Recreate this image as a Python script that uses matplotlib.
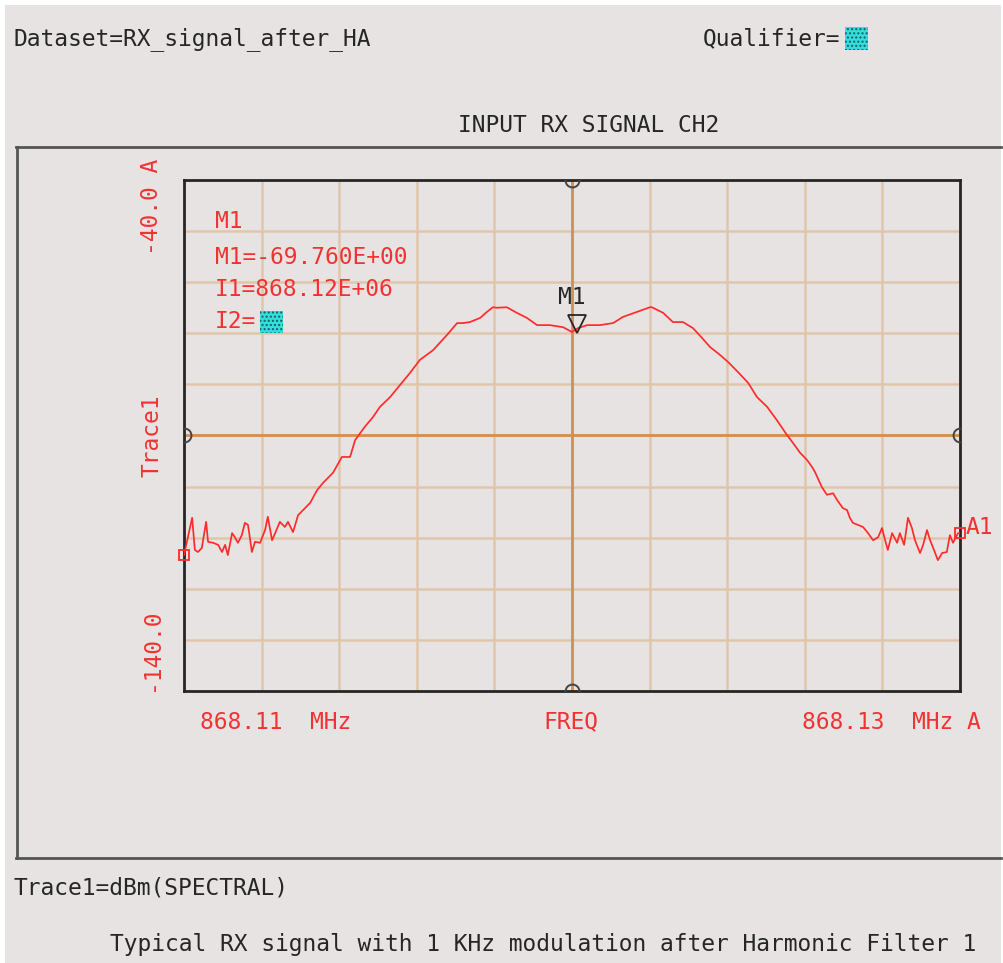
import matplotlib
matplotlib.use('Agg')
import matplotlib.pyplot as plt
import numpy as np
from matplotlib.patches import Rectangle
from matplotlib.lines import Line2D

# ---- data ----
offset_khz = [-10.00, -9.79, -9.72, -9.64, -9.54, -9.43, -9.38, -9.25, -9.12, -9.02,
              -8.94, -8.87, -8.76, -8.69, -8.61, -8.51, -8.43, -8.35, -8.25, -8.17,
              -8.04, -7.91, -7.84, -7.73, -7.65, -7.53, -7.40, -7.32, -7.19, -7.06,
              -6.88, -6.75, -6.57, -6.42, -6.16, -5.93, -5.72, -5.59, -5.34, -5.13,
              -4.95, -4.69, -4.43, -4.18, -3.92, -3.58, -3.22, -2.96, -2.81, -2.63,
              -2.37, -2.19, -2.04, -1.93, -1.68, -1.42, -1.16, -0.90, -0.57, -0.23,
              0.00, 0.15, 0.39, 0.72, 1.06, 1.31, 1.68, 2.01, 2.06, 2.35,
              2.60, 2.86, 3.12, 3.35, 3.56, 3.81, 4.02, 4.28, 4.54, 4.77,
              5.03, 5.28, 5.54, 5.70, 5.88, 6.06, 6.19, 6.26, 6.44, 6.57,
              6.73, 6.83, 6.98, 7.09, 7.16, 7.24, 7.37, 7.50, 7.63, 7.76,
              7.89, 7.99, 8.07, 8.14, 8.25, 8.38, 8.45, 8.56, 8.66, 8.76,
              8.84, 8.97, 9.05, 9.15, 9.23, 9.33, 9.43, 9.54, 9.66, 9.74,
              9.82, 9.95, 10.00]
level_dbm = [-113.4, -106.1, -112.4, -112.8, -112.0, -106.9, -110.8, -111.0, -111.4, -112.8,
             -111.4, -113.4, -109.1, -109.9, -111.0, -109.5, -107.1, -107.5, -112.8, -110.8,
             -111.0, -108.5, -105.9, -110.5, -109.1, -106.9, -107.9, -106.9, -108.9, -105.6,
             -104.2, -103.2, -100.7, -99.3, -97.3, -94.2, -94.2, -90.9, -88.3, -86.4,
             -84.4, -82.5, -80.1, -77.8, -75.2, -73.3, -70.3, -68.0, -68.0, -67.8,
             -67.0, -65.8, -64.9, -65.0, -64.9, -66.0, -67.0, -68.4, -68.4, -68.8,
             -69.76, -69.0, -68.4, -68.4, -68.0, -66.8, -65.8, -64.9, -64.9, -66.0,
             -67.8, -67.8, -69.0, -70.9, -72.7, -74.2, -75.6, -77.6, -79.7, -82.5,
             -84.4, -87.0, -89.9, -91.5, -93.4, -94.8, -96.2, -97.1, -100.1, -101.6,
             -101.3, -102.6, -104.2, -104.6, -106.1, -107.1, -107.5, -107.9, -109.1, -110.5,
             -109.9, -108.1, -110.5, -112.4, -109.1, -111.0, -109.1, -111.4, -106.1, -108.1,
             -110.5, -113.0, -111.4, -108.5, -110.5, -112.4, -114.4, -113.0, -112.8, -109.5,
             -111.0, -109.1, -109.1]

center_mhz = 868.12
span_khz = 20.0
y_top, y_bottom = -40.0, -140.0
marker_label = "M1"
marker_value_text = "M1=-69.760E+00"
marker_freq_text = "I1=868.12E+06"
x_tick_labels = ["868.11  MHz", "FREQ", "868.13  MHz A"]
y_tick_labels = ["-40.0 A", "Trace1", "-140.0"]

# ---- figure ----
W, H = 1004, 963
fig = plt.figure(figsize=(W / 100, H / 100), dpi=100)
fig.patch.set_facecolor('white')

def fx(x):
    return x / W

def fy(y):
    return 1 - y / H

BG = '#e8e3e3'
RED = '#f03232'
TRACE = '#ff2a2a'
DARK = '#262626'
FONT = 'DejaVu Sans Mono'
FS = 16.5

fig.patches.append(Rectangle((fx(5), 0), fx(1001) - fx(5), fy(5), transform=fig.transFigure,
                             facecolor=BG, edgecolor='none', zorder=-10))
# outer frame
for (x0, y0, x1, y1) in [(16, 147, 1001, 147), (17, 147, 17, 858), (16, 858, 1001, 858)]:
    fig.add_artist(Line2D([fx(x0), fx(x1)], [fy(y0), fy(y1)], transform=fig.transFigure,
                          color='#555555', lw=2, zorder=-5))

ax = fig.add_axes([fx(184), fy(691), (960 - 184) / W, (691 - 180) / H])
ax.set_zorder(1)
ax.set_facecolor(BG)
fmin = center_mhz - span_khz / 2000
fmax = center_mhz + span_khz / 2000
ax.set_xlim(fmin, fmax)
ax.set_ylim(y_bottom, y_top)
ax.set_xticks(np.linspace(fmin, fmax, 11))
ax.set_yticks(np.linspace(y_bottom, y_top, 11))
ax.tick_params(length=0, labelbottom=False, labelleft=False)
ax.grid(True, color='#dfc6ab', lw=1.8)
ax.set_axisbelow(True)
ax.axvline(center_mhz, color='#d29050', lw=2, zorder=1)
ax.axhline((y_top + y_bottom) / 2, color='#d29050', lw=2, zorder=1)
for s in ax.spines.values():
    s.set_color(DARK)
    s.set_linewidth(2)

freq = [center_mhz + o / 1000 for o in offset_khz]
ax.plot(freq, level_dbm, color=TRACE, lw=1.25, zorder=3)

# end markers
ax.plot([freq[0]], [level_dbm[0]], marker='s', mfc='none', mec=TRACE, ms=7, mew=1.3,
        clip_on=False, zorder=4)
ax.plot([freq[-1]], [level_dbm[-1]], marker='s', mfc='none', mec=TRACE, ms=7, mew=1.3,
        clip_on=False, zorder=4)

# half-circle edge markers on centre lines
ymid = (y_top + y_bottom) / 2
for (xx, yy) in [(center_mhz, y_top), (center_mhz, y_bottom), (fmin, ymid), (fmax, ymid)]:
    ax.plot([xx], [yy], marker='o', mfc='none', mec='#444444', ms=10, mew=1.4, clip_on=True, zorder=5)

# M1 marker triangle
ax.plot([center_mhz + 0.13 / 1000], [-68.2], marker='v', mfc='none', mec=DARK, ms=13.5, mew=1.3, zorder=5)

# ---- texts ----
def t(x, y, s, color=DARK, ha='left', va='center', rot=0, **kw):
    fig.text(fx(x), fy(y), s, color=color, ha=ha, va=va, rotation=rot,
             family=FONT, fontsize=FS, zorder=7, **kw)

t(14, 39, "Dataset=RX_signal_after_HA")
t(703, 39, "Qualifier=")
t(458, 126, "INPUT RX SIGNAL CH2")

t(215, 221, marker_label, color=RED)
t(215, 257, marker_value_text, color=RED)
t(215, 290, marker_freq_text, color=RED)
t(215, 321, "I2=", color=RED)
t(572, 298, marker_label, ha='center')

t(152, 207, y_tick_labels[0], color=RED, ha='center', rot=90)
t(152, 436, y_tick_labels[1], color=RED, ha='center', rot=90)
t(152, 650, y_tick_labels[2], color=RED, ha='center', rot=90)

t(200, 722, x_tick_labels[0], color=RED)
t(571, 722, x_tick_labels[1], color=RED, ha='center')
t(802, 722, x_tick_labels[2], color=RED)
t(966, 527, "A1", color=RED)

t(14, 888, "Trace1=dBm(SPECTRAL)")
t(110, 944, "Typical RX signal with 1 KHz modulation after Harmonic Filter 1")

# cyan qualifier boxes
for (x0, y0, x1, y1) in [(845, 27, 868, 50), (260, 311, 283, 333)]:
    fig.patches.append(Rectangle((fx(x0), fy(y1)), fx(x1) - fx(x0), fy(y0) - fy(y1),
                                 transform=fig.transFigure, facecolor='#34dede',
                                 edgecolor='#1a6060', hatch='....', lw=0, zorder=8))

fig.savefig('out.png', dpi=100, facecolor=fig.get_facecolor())
